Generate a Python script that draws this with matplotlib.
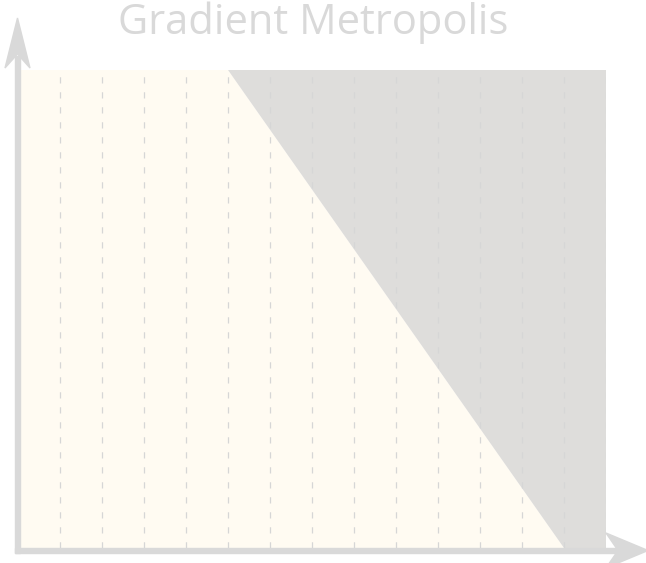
import matplotlib
matplotlib.use("Agg")
import matplotlib.pyplot as plt
from matplotlib.patches import Polygon

W, H = 646, 563

CREAM = "#FFFBF2"
GRAY = "#DEDDDB"
AXIS = "#D9D9D9"
GRID = "#D6D6D6"
TITLE = "#D9D9D9"

# data: position index along x, lower (cream) and upper (gray) stacked shares
x_pos = [0, 1, 2, 3, 4, 5, 6, 7, 8, 9, 10, 11, 12, 13, 14]
cream_vals = [100, 100, 100, 100, 100, 100, 87.5, 75, 62.5, 50, 37.5, 25, 12.5, 0, 0]
gray_vals = [0, 0, 0, 0, 0, 0, 12.5, 25, 37.5, 50, 62.5, 75, 87.5, 100, 100]
title = "Gradient Metropolis"


def px(x, y):
    # figure pixel (top-left origin) -> figure fraction
    return (x / W, 1 - y / H)


def main():
    fig = plt.figure(figsize=(W / 100, H / 100), dpi=100, facecolor="white")
    left, top = px(18, 70)
    right, bottom = px(606, 548)
    ax = fig.add_axes([left, bottom, right - left, top - bottom])

    ax.stackplot(x_pos, cream_vals, gray_vals, colors=[CREAM, GRAY], lw=0)
    for xv in x_pos[1:]:
        ax.axvline(xv, color=GRID, lw=0.9, dashes=(5, 7), zorder=3)
    ax.set_xlim(x_pos[0], x_pos[-1])
    ax.set_ylim(0, 100)
    ax.axis("off")

    # y axis arrow
    fig.patches.append(Polygon([px(15, 553), px(20, 553), px(20, 56), px(15, 56)],
                               closed=True, transform=fig.transFigure, color=AXIS))
    fig.patches.append(Polygon([px(17.5, 18), px(30, 68), px(17.5, 54), px(5, 68)],
                               closed=True, transform=fig.transFigure, color=AXIS))
    # x axis arrow
    fig.patches.append(Polygon([px(15, 548), px(622, 548), px(622, 553), px(15, 553)],
                               closed=True, transform=fig.transFigure, color=AXIS))
    fig.patches.append(Polygon([px(648, 550.5), px(606, 568), px(618, 550.5), px(606, 533)],
                               closed=True, transform=fig.transFigure, color=AXIS))

    tx, ty = px(313, 34)
    fig.text(tx, ty, title, ha="center", va="baseline", fontsize=30,
             family="Open Sans", color=TITLE)

    fig.savefig("out.png", dpi=100)


if __name__ == "__main__":
    main()
